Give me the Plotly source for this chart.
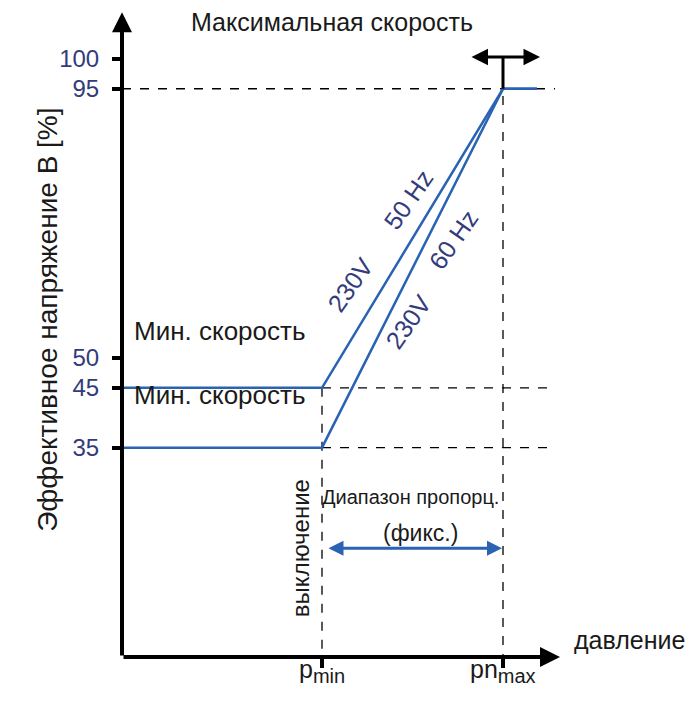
import plotly.graph_objects as go

# ---- data ----
P_MIN = 1.0
PN_MAX = 1.905
P_END = 2.075
pressure_50hz = [0, P_MIN, PN_MAX, P_END]
voltage_50hz = [45, 45, 95, 95]
pressure_60hz = [0, P_MIN, PN_MAX, P_END]
voltage_60hz = [35, 35, 95, 95]
y_ticks = [35, 45, 50, 95, 100]
x_ticks = [P_MIN, PN_MAX]
x_tick_labels = ["p<sub><span style='font-size:20px'>min</span></sub>",
                 "pn<sub><span style='font-size:20px'>max</span></sub>"]

BLUE = "#2a62b4"
NAVY = "#323c7c"
DARK = "#1a1a1a"
FONT = "Arial, Liberation Sans, sans-serif"

fig = go.Figure()

# dashed guide lines
dash_style = dict(color="black", width=1.3, dash="dash")
guides = [
    ([0, 2.165], [95, 95]),
    ([P_MIN, 2.165], [45, 45]),
    ([P_MIN, 2.165], [35, 35]),
    ([P_MIN, P_MIN], [45, -1.9]),
    ([PN_MAX, PN_MAX], [99.8, -1.9]),
]
for gx, gy in guides:
    fig.add_trace(go.Scatter(x=gx, y=gy, mode="lines", line=dash_style,
                             hoverinfo="skip", showlegend=False, cliponaxis=False))

fig.add_trace(go.Scatter(x=pressure_50hz, y=voltage_50hz, mode="lines",
                         line=dict(color=BLUE, width=2.5), showlegend=False))
fig.add_trace(go.Scatter(x=pressure_60hz, y=voltage_60hz, mode="lines",
                         line=dict(color=BLUE, width=2.5), showlegend=False))

# T marker vertical
fig.add_trace(go.Scatter(x=[PN_MAX, PN_MAX], y=[95, 100.3], mode="lines",
                         line=dict(color="black", width=3), showlegend=False))

ann = []
# axes with arrows
ann.append(dict(x=0, y=107.8, ax=0, ay=0, xref="x", yref="y", axref="x", ayref="y",
                text="", showarrow=True, arrowhead=2, arrowsize=1.0, arrowwidth=4,
                arrowcolor="black"))
ann.append(dict(x=2.19, y=0, ax=0, ay=0, xref="x", yref="y", axref="x", ayref="y",
                text="", showarrow=True, arrowhead=2, arrowsize=1.0, arrowwidth=4,
                arrowcolor="black"))
# T horizontal double arrow
ann.append(dict(x=2.09, y=100.3, ax=1.74, ay=100.3, xref="x", yref="y", axref="x", ayref="y",
                text="", showarrow=True, arrowhead=2, arrowside="end+start",
                arrowsize=1.1, arrowwidth=3, arrowcolor="black"))
# blue range arrow
ann.append(dict(x=1.9, y=18.2, ax=1.025, ay=18.2, xref="x", yref="y", axref="x", ayref="y",
                text="", showarrow=True, arrowhead=2, arrowside="end+start",
                arrowsize=1.0, arrowwidth=3, arrowcolor=BLUE))

def txt(x, y, t, size=20, color=DARK, angle=0, xref="x", yref="y", **kw):
    d = dict(x=x, y=y, text=t, xref=xref, yref=yref, showarrow=False,
             font=dict(family=FONT, size=size, color=color), textangle=angle)
    d.update(kw)
    ann.append(d)

txt(1.05, 106.1, "Максимальная скорость", 25)
txt(0.49, 54.5, "Мин. скорость", 26)
txt(0.49, 43.8, "Мин. скорость", 26)
txt(2.535, 2.8, "давление", 25)
txt(0.89, 18.2, "выключение", 24, angle=-90)
txt(1.44, 26.7, "Диапазон пропорц.", 20)
txt(1.49, 20.7, "(фикс.)", 23)
txt(1.14, 62.2, "230V", 25, NAVY, -55)
txt(1.43, 76.4, "50 Hz", 25, NAVY, -55)
txt(1.655, 69.7, "60 Hz", 25, NAVY, -55)
txt(1.43, 56.0, "230V", 25, NAVY, -55)
txt(-0.161, 56.3, "Эффективное напряжение В [%]", 28, angle=-90, xref="paper")
for xv, lab in zip(x_ticks, x_tick_labels):
    txt(xv, -0.05, lab, 25, yref="paper")

fig.update_layout(
    width=685, height=697,
    margin=dict(l=114, r=0, t=0, b=48, autoexpand=False),
    paper_bgcolor="white", plot_bgcolor="white",
    annotations=ann,
    xaxis=dict(range=[0, 2.855], showgrid=False, zeroline=False, showline=False,
               tickmode="array", tickvals=x_ticks, showticklabels=False,
               ticks="outside", ticklen=10, tickwidth=4, tickcolor="black"),
    yaxis=dict(range=[0, 108.5], showgrid=False, zeroline=False, showline=False,
               tickmode="array", tickvals=y_ticks,
               ticks="outside", ticklen=9, tickwidth=4, tickcolor="black",
               ticklabelstandoff=8,
               tickfont=dict(family=FONT, size=24, color=NAVY)),
)

fig.write_html("out.html")
